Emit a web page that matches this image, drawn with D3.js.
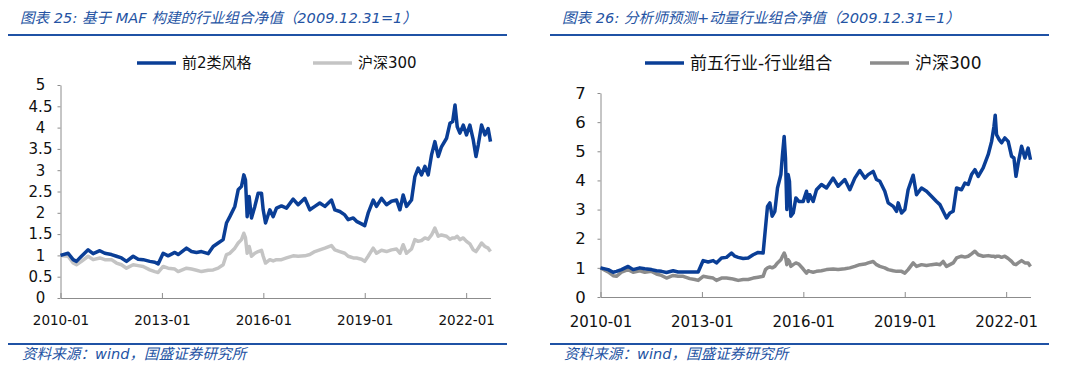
<!DOCTYPE html>
<html>
<head>
<meta charset="utf-8">
<script src="https://cdn.jsdelivr.net/npm/d3@7/dist/d3.min.js"></script>
<style>
  html, body { margin: 0; padding: 0; background: #fff; }
  svg { display: block; }
  text { font-family: "DejaVu Sans", "Noto Sans CJK SC", sans-serif; }
</style>
</head>
<body>
<div id="chart"></div>
<script>
// ---- data (time as decimal years) ----
const yearTicks = [2010, 2013, 2016, 2019, 2022];

// chart 25: MAF style portfolio vs CSI 300
const mafYears = [
  2010.0, 2010.226, 2010.374, 2010.472, 2010.62, 2010.817, 2010.965, 2011.163, 2011.31, 2011.508,
  2011.656, 2011.804, 2011.952, 2012.149, 2012.297, 2012.445, 2012.642, 2012.79, 2012.889, 2013.037,
  2013.184, 2013.382, 2013.48, 2013.727, 2013.875, 2014.023, 2014.17, 2014.368, 2014.516, 2014.664,
  2014.811, 2014.91, 2015.009, 2015.157, 2015.256, 2015.354, 2015.423, 2015.472, 2015.522, 2015.581,
  2015.65, 2015.749, 2015.847, 2015.946, 2015.996, 2016.065,
  2016.192, 2016.291, 2016.389, 2016.537, 2016.685, 2016.882, 2017.03, 2017.227, 2017.375, 2017.523,
  2017.67, 2017.82, 2018.016, 2018.115, 2018.263, 2018.41, 2018.51, 2018.66, 2018.757, 2018.905,
  2019.0, 2019.1, 2019.25, 2019.348, 2019.496, 2019.644, 2019.79, 2019.94, 2020.04, 2020.137,
  2020.236, 2020.384, 2020.483, 2020.58, 2020.68, 2020.78, 2020.877, 2020.976, 2021.075, 2021.174,
  2021.27, 2021.42, 2021.52, 2021.6, 2021.67, 2021.736, 2021.815, 2021.914, 2022.01, 2022.11,
  2022.21, 2022.29, 2022.357, 2022.456, 2022.555, 2022.65, 2022.72
];
const mafTop2 = [
  1.0, 1.05, 0.9, 0.86, 0.98, 1.13, 1.04, 1.11, 1.05, 1.02,
  0.98, 0.94, 0.86, 0.98, 0.91, 0.9, 0.86, 0.84, 0.8, 1.05,
  0.99, 1.07, 1.02, 1.17, 1.09, 1.07, 1.09, 1.04, 1.21, 1.29,
  1.37, 1.76, 1.91, 2.15, 2.54, 2.62, 2.89, 2.77, 1.91, 2.38,
  1.88, 2.15, 2.46, 2.46, 2.07, 1.76,
  2.07, 1.91, 2.11, 2.16, 2.11, 2.32, 2.19, 2.34, 2.07, 2.15,
  2.23, 2.15, 2.30, 2.07, 2.03, 1.95, 1.84, 1.88, 1.80, 1.74,
  1.70, 1.99, 2.30, 2.15, 2.34, 2.19, 2.27, 2.30, 2.07, 2.42,
  2.15, 2.30, 2.85, 3.05, 2.89, 3.09, 2.89, 3.36, 3.67, 3.32,
  3.55, 3.75, 4.10, 4.14, 4.53, 4.02, 3.87, 4.06, 3.83, 4.06,
  3.71, 3.32, 3.59, 4.06, 3.83, 3.98, 3.67
];
const mafHs300 = [
  1.0, 0.98, 0.82, 0.78, 0.86, 0.98, 0.9, 0.94, 0.9, 0.9,
  0.82, 0.78, 0.70, 0.78, 0.76, 0.74, 0.66, 0.62, 0.60, 0.74,
  0.70, 0.68, 0.62, 0.70, 0.68, 0.65, 0.62, 0.65, 0.66, 0.70,
  0.78, 1.02, 1.05, 1.17, 1.29, 1.37, 1.52, 1.41, 1.05, 1.21,
  0.98, 1.05, 1.09, 1.12, 0.98, 0.82,
  0.9, 0.87, 0.9, 0.9, 0.94, 0.99, 0.98, 0.99, 1.02, 1.09,
  1.13, 1.17, 1.23, 1.13, 1.09, 1.05, 0.98, 0.94, 0.94, 0.91,
  0.86, 0.98, 1.17, 1.05, 1.12, 1.09, 1.13, 1.15, 1.05, 1.25,
  1.05, 1.15, 1.37, 1.33, 1.35, 1.41, 1.38, 1.48, 1.64, 1.45,
  1.48, 1.45, 1.38, 1.41, 1.41, 1.45, 1.37, 1.41, 1.33, 1.27,
  1.13, 1.09, 1.17, 1.29, 1.21, 1.17, 1.09
];

// chart 26: analyst forecast + momentum industry portfolio vs CSI 300
const indYears = [
  2010.0, 2010.226, 2010.374, 2010.472, 2010.62, 2010.817, 2010.965, 2011.163, 2011.31, 2011.508,
  2011.656, 2011.804, 2011.952, 2012.149, 2012.297, 2012.445, 2012.642, 2012.79, 2012.889, 2013.037,
  2013.184, 2013.332, 2013.43, 2013.58, 2013.727, 2013.875, 2013.974, 2014.073, 2014.22, 2014.368,
  2014.516, 2014.664, 2014.811, 2014.88, 2014.94, 2015.009, 2015.078, 2015.157, 2015.236, 2015.335,
  2015.384, 2015.433, 2015.472, 2015.512, 2015.551, 2015.59, 2015.63, 2015.7, 2015.78, 2015.867,
  2015.996, 2016.094, 2016.144,
  2016.192, 2016.291, 2016.389, 2016.537, 2016.685, 2016.882, 2017.03, 2017.227, 2017.375, 2017.523,
  2017.67, 2017.82, 2017.918, 2018.066, 2018.165, 2018.263, 2018.41, 2018.51, 2018.66, 2018.757,
  2018.807, 2018.905, 2019.003, 2019.1, 2019.25, 2019.348, 2019.496, 2019.644, 2019.79, 2019.94,
  2020.04, 2020.137, 2020.236, 2020.335, 2020.433, 2020.532, 2020.68, 2020.78, 2020.877, 2020.976,
  2021.075, 2021.174, 2021.32, 2021.47, 2021.57, 2021.64, 2021.676, 2021.715, 2021.794, 2021.864,
  2021.96, 2022.06, 2022.16, 2022.23, 2022.29, 2022.357, 2022.456, 2022.555, 2022.65, 2022.72
];
const indTop5 = [
  1.0, 0.94, 0.85, 0.88, 0.94, 1.05, 0.94, 1.0, 0.97, 0.94,
  0.9, 0.88, 0.84, 0.9, 0.86, 0.86, 0.86, 0.86, 0.86, 1.25,
  1.2, 1.25, 1.17, 1.34, 1.36, 1.51, 1.4, 1.36, 1.32, 1.34,
  1.45, 1.53, 1.51, 2.37, 3.11, 3.23, 2.77, 2.94, 3.74, 4.2,
  4.89, 5.51, 4.77, 3.0, 4.2, 3.97, 2.77, 2.88, 3.4, 3.28,
  3.28, 3.63, 3.28,
  3.51, 3.28, 3.68, 3.86, 3.74, 4.08, 3.8, 4.03, 3.68, 4.08,
  4.34, 4.08, 4.2, 4.31, 4.03, 3.97, 3.63, 3.23, 3.11, 2.94,
  3.23, 2.88, 3.0, 3.68, 4.18, 3.51, 3.74, 3.63, 3.46, 3.28,
  3.17, 2.94, 2.71, 2.88, 2.94, 3.74, 3.68, 3.91, 3.86, 4.2,
  4.37, 4.14, 4.43, 4.89, 5.34, 5.86, 6.24, 5.57, 5.4, 5.29,
  5.46, 5.34, 4.83, 4.77, 4.14, 4.6, 5.17, 4.77, 5.11, 4.71
];
const indHs300 = [
  1.0, 0.86, 0.73, 0.71, 0.85, 0.94, 0.85, 0.9, 0.85, 0.88,
  0.79, 0.74, 0.65, 0.74, 0.71, 0.71, 0.63, 0.6, 0.57, 0.71,
  0.68, 0.65, 0.57, 0.65, 0.65, 0.63, 0.6, 0.57, 0.6, 0.6,
  0.65, 0.68, 0.71, 0.94, 1.0, 1.03, 1.0, 1.05, 1.17, 1.28,
  1.4, 1.51, 1.4, 1.11, 1.28, 1.22, 1.05, 1.11, 1.17, 1.13,
  0.96, 0.82, 0.9,
  0.88, 0.85, 0.88, 0.9, 0.94, 0.96, 0.94, 0.97, 1.0, 1.05,
  1.11, 1.13, 1.17, 1.22, 1.11, 1.05, 1.0, 0.94, 0.9, 0.88,
  0.88, 0.88, 0.82, 0.94, 1.17, 1.05, 1.11, 1.08, 1.11, 1.13,
  1.11, 1.22, 1.05, 1.11, 1.17, 1.34, 1.4, 1.37, 1.4, 1.48,
  1.57, 1.45, 1.4, 1.42, 1.4, 1.4, 1.37, 1.4, 1.4, 1.36,
  1.4, 1.32, 1.22, 1.13, 1.11, 1.17, 1.25, 1.17, 1.17, 1.05
];

const BLUE = '#0a3e96';
const TITLE_BLUE = '#2453a3';

const svg = d3.select('#chart').append('svg')
  .attr('width', 1080)
  .attr('height', 376);

svg.append('rect').attr('width', 1080).attr('height', 376).attr('fill', '#fff');

// draws one panel (title, legend, axes, lines, source note)
function drawPanel(cfg) {
  const g = svg.append('g');

  // title + rule
  g.append('text')
    .attr('x', cfg.titleX).attr('y', 23)
    .attr('fill', TITLE_BLUE)
    .style('font-size', '14.6px')
    .style('font-style', 'italic')
    .text(cfg.title);
  g.append('line')
    .attr('x1', cfg.ruleX1).attr('x2', cfg.ruleX2)
    .attr('y1', 35).attr('y2', 35)
    .attr('stroke', '#1f52a5').attr('stroke-width', 2);

  const x = d3.scaleLinear()
    .domain([2010, 2022.72])
    .range([cfg.left, cfg.right]);
  const y = d3.scaleLinear()
    .domain([0, cfg.yMax])
    .range([cfg.bottom, cfg.top]);

  // y axis, labels centred like the original
  const yAxis = g.append('g')
    .attr('transform', `translate(${cfg.left},0)`)
    .call(d3.axisLeft(y).tickValues(cfg.yTicks).tickSize(3).tickSizeOuter(0)
      .tickFormat(d => d3.format('~g')(d)));
  yAxis.selectAll('text')
    .attr('x', -20)
    .attr('text-anchor', 'middle')
    .attr('fill', '#111')
    .style('font-size', cfg.yFont + 'px');

  // x axis, tick marks point inward
  const xAxis = g.append('g')
    .attr('transform', `translate(0,${cfg.bottom})`)
    .call(d3.axisBottom(x).tickValues(yearTicks).tickSizeInner(-5).tickSizeOuter(0)
      .tickPadding(cfg.xPad).tickFormat(d => d + '-01'));
  xAxis.selectAll('text')
    .attr('fill', '#111')
    .style('font-size', cfg.xFont + 'px');

  [yAxis, xAxis].forEach(a => {
    a.select('.domain').attr('stroke', '#8c8c8c');
    a.selectAll('.tick line').attr('stroke', '#8c8c8c');
  });

  const line = d3.line()
    .x((d, i) => x(cfg.years[i]))
    .y(d => y(d));

  // benchmark first, portfolio on top
  g.append('path')
    .datum(cfg.bench)
    .attr('d', line)
    .attr('fill', 'none')
    .attr('stroke', cfg.benchColor)
    .attr('stroke-width', 3.5)
    .attr('stroke-linejoin', 'round');
  g.append('path')
    .datum(cfg.main)
    .attr('d', line)
    .attr('fill', 'none')
    .attr('stroke', BLUE)
    .attr('stroke-width', 3.5)
    .attr('stroke-linejoin', 'round');

  // legend
  const legend = [
    { name: cfg.mainName, color: BLUE, x: cfg.legX[0] },
    { name: '沪深300', color: cfg.benchColor, x: cfg.legX[1] }
  ];
  legend.forEach(l => {
    g.append('line')
      .attr('x1', l.x).attr('x2', l.x + 39)
      .attr('y1', 63).attr('y2', 63)
      .attr('stroke', l.color).attr('stroke-width', 3.5);
    g.append('text')
      .attr('x', l.x + 45).attr('y', 63)
      .attr('dy', '0.36em')
      .attr('fill', '#111')
      .style('font-size', cfg.legFont + 'px')
      .text(l.name);
  });

  // source note
  g.append('line')
    .attr('x1', cfg.ruleX1).attr('x2', cfg.ruleX2)
    .attr('y1', 344).attr('y2', 344)
    .attr('stroke', '#1f52a5').attr('stroke-width', 2);
  g.append('text')
    .attr('x', cfg.titleX + 2).attr('y', 359)
    .attr('fill', TITLE_BLUE)
    .style('font-size', '14.6px')
    .style('font-style', 'italic')
    .text('资料来源：wind，国盛证券研究所');
}

drawPanel({
  title: '图表 25:  基于 MAF 构建的行业组合净值（2009.12.31=1）',
  titleX: 20, ruleX1: 8, ruleX2: 507,
  left: 60.5, right: 490.5, top: 85, bottom: 298,
  yMax: 5, yTicks: d3.range(0, 5.01, 0.5),
  yFont: 15, xFont: 13.5, xPad: 17, legFont: 15,
  years: mafYears, main: mafTop2, bench: mafHs300,
  mainName: '前2类风格', benchColor: '#c4c4c4',
  legX: [137, 313]
});

drawPanel({
  title: '图表 26:  分析师预测+动量行业组合净值（2009.12.31=1）',
  titleX: 562, ruleX1: 550, ruleX2: 1049,
  left: 600.5, right: 1030.5, top: 93, bottom: 297,
  yMax: 7, yTicks: d3.range(0, 8, 1),
  yFont: 16.5, xFont: 15, xPad: 19, legFont: 17,
  years: indYears, main: indTop5, bench: indHs300,
  mainName: '前五行业-行业组合', benchColor: '#8c8c8c',
  legX: [645, 870]
});
</script>
</body>
</html>
